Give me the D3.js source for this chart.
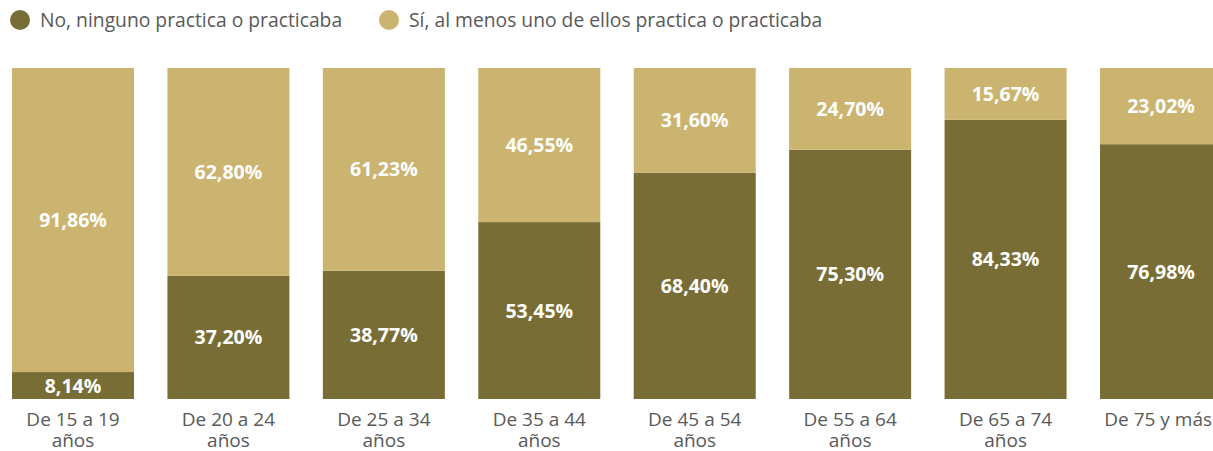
<!DOCTYPE html>
<html>
<head>
<meta charset="utf-8">
<script src="https://cdn.jsdelivr.net/npm/d3@7"></script>
<style>
  body { margin: 0; background: #fff; overflow: hidden; }
  svg { display: block; font-family: "Open Sans", sans-serif; }
</style>
</head>
<body>
<div id="chart"></div>
<script>
// age groups and shares (%)
var categories = ["De 15 a 19 años", "De 20 a 24 años", "De 25 a 34 años", "De 35 a 44 años",
                  "De 45 a 54 años", "De 55 a 64 años", "De 65 a 74 años", "De 75 y más"];
var noValues = [8.14, 37.20, 38.77, 53.45, 68.40, 75.30, 84.33, 76.98];
var siValues = [91.86, 62.80, 61.23, 46.55, 31.60, 24.70, 15.67, 23.02];
var seriesNames = ["No, ninguno practica o practicaba", "Sí, al menos uno de ellos practica o practicaba"];
var colors = ["#786e35", "#cbb370"];

const width = 1213, height = 451;
const margin = {top: 68, bottom: 52, left: 12};

const svg = d3.select("#chart")
    .append("svg")
    .attr("width", width)
    .attr("height", height);

// rows for the stack
var rows = categories.map((c, i) => ({cat: c, no: noValues[i], si: siValues[i]}));
var stack = d3.stack().keys(["no", "si"])(rows);

const step = 155.43, bw = 122;
const xScale = d3.scaleBand()
    .domain(categories)
    .range([margin.left, margin.left + 7 * step + bw])
    .paddingInner((step - bw) / step)
    .paddingOuter(0);

const yScale = d3.scaleLinear()
    .domain([0, 100])
    .range([height - margin.bottom, margin.top]);

const fmt = v => v.toFixed(2).replace(".", ",") + "%";

// bars
stack.forEach(function(layer, li) {
    const g = svg.append("g").attr("fill", colors[li]);
    g.selectAll("rect")
        .data(layer)
        .join("rect")
        .attr("x", d => xScale(d.data.cat))
        .attr("y", d => yScale(d[1]))
        .attr("width", xScale.bandwidth())
        .attr("height", d => yScale(d[0]) - yScale(d[1]));

    svg.append("g").selectAll("text")
        .data(layer)
        .join("text")
        .attr("x", d => xScale(d.data.cat) + xScale.bandwidth() / 2)
        .attr("y", d => (yScale(d[0]) + yScale(d[1])) / 2)
        .attr("dy", "0.36em")
        .attr("text-anchor", "middle")
        .attr("fill", "#fff")
        .attr("font-weight", "bold")
        .attr("font-size", 19.5)
        .text(d => fmt(d[1] - d[0]));
});

// x axis labels, wrapped to the band width
const xAxis = d3.axisBottom(xScale).tickSize(0).tickPadding(0);
const xAxisGroup = svg.append("g")
    .attr("class", "x-axis")
    .attr("transform", `translate(0, ${height - margin.bottom})`)
    .call(xAxis);
xAxisGroup.select(".domain").remove();
xAxisGroup.selectAll("text")
    .attr("fill", "#595959")
    .attr("font-size", 19)
    .attr("font-family", "Open Sans, sans-serif")
    .attr("y", 27)
    .attr("dy", 0)
    .each(function(d) {
        const t = d3.select(this);
        const words = d.split(" ");
        t.text(null);
        let line = [], lineNo = 0;
        let ts = t.append("tspan").attr("x", 0).attr("y", 27);
        words.forEach(function(w) {
            line.push(w);
            ts.text(line.join(" "));
            if (ts.node().getComputedTextLength() > xScale.bandwidth() && line.length > 1) {
                line.pop();
                ts.text(line.join(" "));
                line = [w];
                lineNo++;
                ts = t.append("tspan").attr("x", 0).attr("y", 27 + lineNo * 21).text(w);
            }
        });
        // keep the label inside the page
        const box = this.getBBox();
        const tx = xScale(d) + xScale.bandwidth() / 2;
        const over = tx + box.x + box.width - (width - 1);
        if (over > 0) t.attr("transform", `translate(${-over},0)`);
    });

// legend
const legendX = [20, 389];
const legend = svg.append("g").attr("class", "legend");
seriesNames.forEach(function(name, i) {
    legend.append("circle")
        .attr("cx", legendX[i])
        .attr("cy", 20)
        .attr("r", 10)
        .attr("fill", colors[i]);
    legend.append("text")
        .attr("x", legendX[i] + 20)
        .attr("y", 20)
        .attr("dy", "0.35em")
        .attr("fill", "#595959")
        .attr("font-size", 19.3)
        .text(name);
});
</script>
</body>
</html>
